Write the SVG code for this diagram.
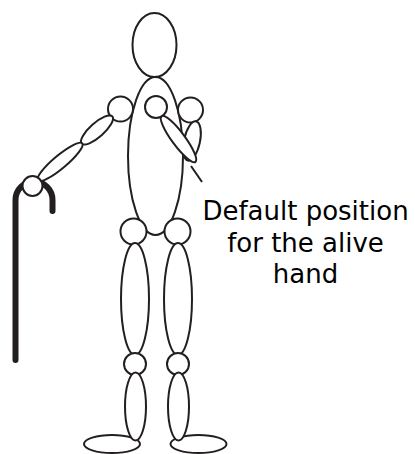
<svg xmlns="http://www.w3.org/2000/svg" width="415" height="454" viewBox="0 0 415 454">
  <style>
    .part { fill: #ffffff; stroke: #231f20; stroke-width: 2; }
    .cane { fill: none; stroke: #231f20; stroke-width: 6; stroke-linecap: round; }
    .pointer { fill: none; stroke: #231f20; stroke-width: 2; }
    .label { font-family: "DejaVu Sans", Verdana, sans-serif; font-size: 26px; fill: #000000; text-anchor: middle; }
  </style>

  <!-- walking stick -->
  <g id="cane">
    <path class="cane" d="M15.5,360 V200 A18.5,18.5 0 0 1 52.5,200 V211"/>
  </g>

  <g id="torso"><ellipse class="part" cx="155.5" cy="156" rx="27.5" ry="79"/></g>
  <g id="head"><ellipse class="part" cx="154.5" cy="45" rx="22" ry="32"/></g>

  <!-- arm resting on the stick -->
  <g id="left-shoulder"><circle class="part" cx="120.5" cy="109" r="12.5"/></g>
  <g id="left-upper-arm"><ellipse class="part" cx="97" cy="130" rx="20.5" ry="7" transform="rotate(-41.5 97 130)"/></g>
  <g id="left-forearm"><ellipse class="part" cx="60" cy="162" rx="29" ry="6.5" transform="rotate(-40 60 162)"/></g>
  <g id="left-hand"><circle class="part" cx="32.5" cy="186" r="10"/></g>

  <!-- alive arm folded across the chest -->
  <g id="right-shoulder"><circle class="part" cx="190.5" cy="110" r="12.5"/></g>
  <g id="right-upper-arm"><ellipse class="part" cx="192" cy="141" rx="8" ry="20" transform="rotate(12 192 141)"/></g>
  <g id="right-forearm"><ellipse class="part" cx="178.5" cy="139" rx="28.5" ry="6.5" transform="rotate(53.5 178.5 139)"/></g>
  <g id="right-hand"><circle class="part" cx="156" cy="107" r="11"/></g>

  <!-- legs -->
  <g id="left-hip"><circle class="part" cx="133.5" cy="231.5" r="13"/></g>
  <g id="right-hip"><circle class="part" cx="177.5" cy="231.5" r="13"/></g>
  <g id="left-thigh"><ellipse class="part" cx="135" cy="299" rx="14" ry="56"/></g>
  <g id="right-thigh"><ellipse class="part" cx="178" cy="299" rx="14" ry="56"/></g>
  <g id="left-knee"><circle class="part" cx="135" cy="364" r="11"/></g>
  <g id="right-knee"><circle class="part" cx="178" cy="364" r="11"/></g>
  <g id="left-foot"><ellipse class="part" cx="112" cy="444" rx="28" ry="9"/></g>
  <g id="right-foot"><ellipse class="part" cx="198.5" cy="444" rx="28" ry="9"/></g>
  <g id="left-shin"><ellipse class="part" cx="135.5" cy="406.5" rx="10.5" ry="34"/></g>
  <g id="right-shin"><ellipse class="part" cx="178.5" cy="406.5" rx="10.5" ry="34"/></g>

  <g id="connectors">
    <line class="pointer" x1="191" y1="166" x2="202" y2="182"/>
  </g>

  <g id="caption">
    <text class="label" x="305.5" y="220">Default position</text>
    <text class="label" x="305.5" y="251.5">for the alive</text>
    <text class="label" x="305.5" y="283">hand</text>
  </g>
</svg>
